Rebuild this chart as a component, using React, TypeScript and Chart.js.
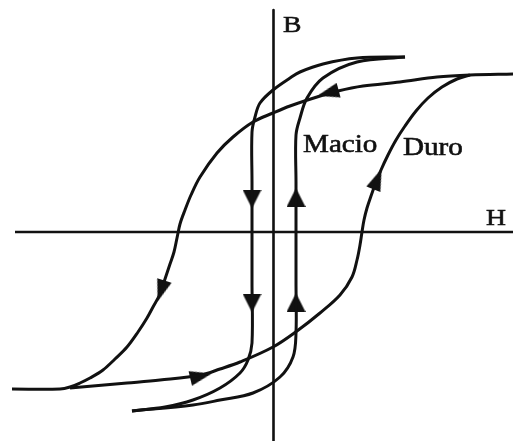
import React, { useEffect, useRef } from "react";
import { Chart, registerables } from "chart.js";

Chart.register(...registerables);

// Axis ranges (H horizontal, B vertical)
const H_MIN = -27.35;
const H_MAX = 23.95;
const B_MIN = -20.9;
const B_MAX = 23.2;

// Axis lines
const axisH_H = [-25.85, 23.95];
const axisH_B = [0, 0];
const axisB_H = [0, 0];
const axisB_B = [22.2, -20.9];

// Hard material ("Duro") – descending branch
const hardDescH = [23.95, 19.65, 16.35, 12.65, 8.95, 6.45, 4.35, 1.65, -0.05, -2.05, -4.05, -5.65, -7.35, -8.25, -8.85, -9.35, -9.65, -9.95, -10.35, -10.85, -11.35, -12.05, -12.65, -13.55, -14.65, -15.85, -17.05, -18.35, -19.35, -20.35, -21.35, -26.15];
const hardDescB = [15.8, 15.7, 15.5, 15.0, 14.6, 14.1, 13.5, 12.6, 11.9, 11.0, 9.5, 7.9, 5.5, 3.7, 2.2, 0.8, -0.6, -2.0, -3.2, -4.7, -6.2, -7.5, -8.6, -10.0, -11.5, -12.7, -13.8, -14.6, -15.1, -15.5, -15.7, -15.7];

// Hard material – ascending branch
const hardAscH = [-20.35, -14.65, -11.35, -7.25, -5.35, -3.35, -0.05, 2.35, 4.65, 6.65, 7.85, 8.35, 8.65, 8.85, 9.05, 9.35, 9.75, 10.15, 10.75, 11.45, 12.25, 13.15, 14.25, 15.45, 16.85, 18.35, 19.65];
const hardAscB = [-15.6, -15.1, -14.8, -14.3, -13.7, -13.0, -11.5, -9.9, -8.1, -6.3, -4.5, -2.8, -1.3, 0.0, 1.2, 2.4, 3.6, 4.7, 6.2, 7.7, 9.2, 10.6, 12.1, 13.4, 14.5, 15.3, 15.7];

// Soft material ("Macio") – descending branch
const softDescH = [13.15, 8.35, 4.95, 2.65, 1.65, -0.05, -1.35, -1.85, -2.15, -2.15, -2.15, -2.15, -2.15, -2.55, -3.35, -5.35, -8.05, -10.85, -14.15];
const softDescB = [17.5, 17.4, 16.8, 16.0, 15.4, 14.2, 12.9, 11.5, 10.0, 5.0, 0.0, -5.0, -11.1, -12.8, -14.1, -15.6, -16.8, -17.5, -17.9];

// Soft material – ascending branch
const softAscH = [-14.15, -8.05, -5.35, -2.05, 0.65, 1.95, 2.25, 2.25, 2.25, 2.25, 2.25, 2.65, 3.35, 4.95, 8.35, 13.15];
const softAscB = [-17.9, -17.3, -16.8, -16.1, -14.5, -12.5, -10.1, -5.0, 0.0, 5.0, 9.7, 11.4, 13.4, 15.4, 17.0, 17.5];

// Direction arrows on the hard loop (centre on curve, heading in degrees, 0 = up)
const hardArrowH = [5.45, -11.25, -7.25, 10.4];
const hardArrowB = [13.9, -5.9, -14.4, 5.3];
const hardArrowRot = [255, 198, 77, 22];

// Direction arrows on the soft loop
const softArrowH = [-2.15, -2.15, 2.25, 2.25];
const softArrowB = [3.3, -7.1, 3.45, -7.05];
const softArrowRot = [180, 180, 0, 0];

// Text labels
const labelTexts = ["B", "H", "Macio", "Duro"];
const labelH = [0.95, 21.25, 2.95, 12.95];
const labelB = [20.0, 0.7, 8.0, 7.7];

const zip = (xs: number[], ys: number[]) => xs.map((x, i) => ({ x, y: ys[i] }));

const INK = "#111111";

function makeArrow(w: number, h: number) {
  const c = document.createElement("canvas");
  c.width = w;
  c.height = h;
  const g = c.getContext("2d")!;
  g.fillStyle = INK;
  g.beginPath();
  g.moveTo(w / 2, 0);
  g.lineTo(w, h);
  g.lineTo(0, h);
  g.closePath();
  g.fill();
  return c;
}

const labelPlugin = {
  id: "labels",
  afterDatasetsDraw(chart: any) {
    const { ctx, scales } = chart;
    ctx.save();
    ctx.fillStyle = INK;
    ctx.strokeStyle = INK;
    ctx.lineWidth = 0.6;
    ctx.textBaseline = "alphabetic";
    ctx.textAlign = "left";
    labelTexts.forEach((t, i) => {
      const px = scales.x.getPixelForValue(labelH[i]);
      const py = scales.y.getPixelForValue(labelB[i]);
      const size = t.length === 1 ? 24 : 26;
      ctx.save();
      ctx.translate(px, py);
      ctx.scale(t.length === 1 ? 1.15 : 1.12, 1);
      ctx.font = `${size}px "Liberation Serif", "Times New Roman", serif`;
      ctx.fillText(t, 0, 0);
      ctx.strokeText(t, 0, 0);
      ctx.restore();
    });
    ctx.restore();
  },
};

export default function App() {
  const ref = useRef<HTMLCanvasElement | null>(null);

  useEffect(() => {
    document.body.style.margin = "0";
    const canvas = ref.current;
    if (!canvas) return;
    const lineDs = (data: any[], width: number, tension: number) => ({
      data,
      showLine: true,
      borderColor: INK,
      borderWidth: width,
      pointRadius: 0,
      pointHoverRadius: 0,
      tension,
      fill: false,
      borderCapStyle: "butt",
      borderJoinStyle: "round",
    });
    const arrowDs = (data: any[], rot: number[], img: HTMLCanvasElement) => ({
      data,
      showLine: false,
      pointStyle: img,
      pointRadius: 10,
      pointHoverRadius: 10,
      pointRotation: rot,
      backgroundColor: INK,
      borderColor: INK,
      borderWidth: 0,
    });
    const hardImg = makeArrow(15, 22);
    const softImg = makeArrow(19, 19);
    const chart = new Chart(canvas, {
      type: "scatter",
      data: {
        datasets: [
          lineDs(zip(axisH_H, axisH_B), 2.6, 0),
          lineDs(zip(axisB_H, axisB_B), 2.6, 0),
          lineDs(zip(hardDescH, hardDescB), 3, 0.35),
          lineDs(zip(hardAscH, hardAscB), 3, 0.35),
          lineDs(zip(softDescH, softDescB), 3, 0.35),
          lineDs(zip(softAscH, softAscB), 3, 0.35),
          arrowDs(zip(hardArrowH, hardArrowB), hardArrowRot, hardImg),
          arrowDs(zip(softArrowH, softArrowB), softArrowRot, softImg),
        ] as any,
      },
      options: {
        animation: false,
        responsive: false,
        events: [],
        layout: { padding: 0, autoPadding: false },
        plugins: { legend: { display: false }, tooltip: { enabled: false } },
        scales: {
          x: { type: "linear", display: false, min: H_MIN, max: H_MAX },
          y: { type: "linear", display: false, min: B_MIN, max: B_MAX },
        },
      } as any,
      plugins: [labelPlugin],
    });
    return () => chart.destroy();
  }, []);

  return (
    <div style={{ position: "absolute", left: 0, top: 0, width: 513, height: 441, background: "#fff" }}>
      <canvas ref={ref} width={513} height={441} style={{ width: 513, height: 441, display: "block" }} />
    </div>
  );
}
